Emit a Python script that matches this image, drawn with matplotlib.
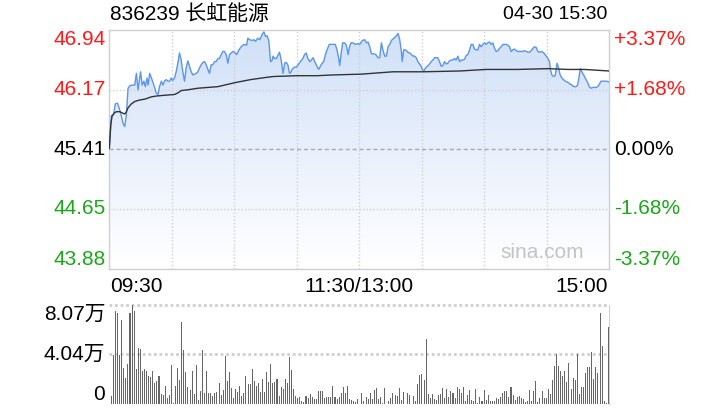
import matplotlib.pyplot as plt
import numpy as np
from matplotlib.colors import LinearSegmentedColormap
from matplotlib.transforms import blended_transform_factory

plt.rcParams['font.family'] = ['Liberation Sans', 'Noto Sans CJK SC', 'DejaVu Sans']

stock_title = "836239 长虹能源"
stamp = "04-30 15:30"
prev_close = 45.41
price_ticks = [46.94, 46.17, 45.41, 44.65, 43.88]
pct_labels = ["+3.37%", "+1.68%", "0.00%", "-1.68%", "-3.37%"]
time_labels = ["09:30", "11:30/13:00", "15:00"]
vol_ticks = [8.07, 4.04, 0]
vol_labels = ["8.07万", "4.04万", "0"]

# minutes since 09:30 (trading minutes, lunch removed) and price
price_min = [0, 1.0, 2.1, 2.9, 3.9, 4.7, 5.5, 6.6, 7.4, 8.2, 9.0, 9.8, 10.9, 12.2, 13.0, 13.8, 14.6, 15.0,
             15.8, 16.6, 17.3, 18.1, 18.6, 19.4, 20.5, 21.4, 22.5, 23.4, 24.1, 25.0, 25.7, 26.5, 27.3,
             28.1, 29.0, 29.7, 30.5, 31.3, 32.1, 32.9, 33.7, 34.5, 35.3, 36.1, 36.9, 37.7, 38.5, 39.3,
             40.1, 40.9, 41.7, 42.5, 43.3, 44.1, 44.9, 45.7, 46.5, 47.3, 48.1, 48.9, 49.7, 50.5, 51.3,
             52.1, 52.9, 53.7, 54.5, 55.3, 56.1, 56.9, 57.7, 58.5, 59.3, 60.1,
             61.1, 62.2, 63.3, 64.6, 65.9, 66.5, 67.4, 68.6, 69.4, 70.2, 71.3, 72.2, 73.4, 74.2, 75.0,
             75.8, 76.6, 77.4, 78.2, 78.6, 79.3, 80.2, 80.9, 81.7, 82.5, 83.4, 84.2, 84.9, 85.7, 86.5,
             87.3, 87.7, 88.9, 89.8, 90.9, 91.7, 92.9, 93.7, 94.5, 95.3, 96.2, 97.0, 97.8, 98.6, 99.7,
             100.5, 101.3, 102.1, 102.9, 103.7, 104.5, 105.6, 106.4, 107.7, 108.5, 109.3, 110.1, 110.6,
             111.2, 112.0, 112.8, 113.6, 114.1, 114.6, 115.2, 116.0, 117.0, 118.1, 119.2, 120.2,
             121.5, 122.6, 123.4, 124.2, 125.0, 125.8, 126.9, 127.9, 129.0, 129.8, 130.6, 131.4, 132.2,
             133.0, 133.8, 134.6, 135.4, 136.2, 137.0, 137.8, 138.6, 139.4, 140.2, 140.6, 141.3, 142.2,
             143.3, 144.2, 145.0, 145.8, 146.5, 147.3, 148.1, 148.9, 149.7, 150.2, 151.0, 151.8, 152.9,
             153.7, 154.5, 155.3, 156.1, 156.9, 157.7, 158.5, 159.3, 160.1, 160.9, 161.7, 162.5, 163.3,
             164.1, 164.9, 165.7, 166.5, 167.3, 168.1, 168.9, 169.7, 170.5, 171.3, 172.1, 172.9, 173.7,
             174.5, 175.3, 176.1, 176.9, 177.7, 178.5, 179.3,
             180.1, 180.9, 181.7, 182.5, 183.3, 184.1, 184.9, 185.7, 186.5, 187.3, 188.1, 188.9, 189.7,
             190.5, 191.3, 192.1, 192.9, 193.7, 194.5, 195.3, 196.1, 196.9, 197.7, 198.5, 199.3, 200.1,
             200.9, 201.7, 202.5, 203.3, 204.1, 204.9, 205.7, 206.5, 207.3, 208.1, 208.9, 209.7, 210.5,
             211.3, 211.7, 212.4, 213.2, 214.0, 214.5, 214.9, 215.6, 216.4, 217.2, 218.0, 218.8, 219.6,
             220.4, 221.3, 222.1, 222.9, 224.0, 224.8, 225.6, 226.1, 226.8, 227.7, 228.8, 229.6, 230.4,
             231.2, 232.0, 232.8, 233.6, 234.4, 235.2, 236.0, 236.8, 237.6, 238.4, 240.0]
price = [45.42, 45.84, 45.86, 45.99, 46.00, 45.94, 45.87, 45.74, 45.70, 45.85, 46.19, 46.22, 46.23, 46.23,
         46.38, 46.17, 46.32, 46.40, 46.23, 46.28, 46.21, 46.32, 46.23, 46.38, 46.30, 46.23, 46.13, 46.11,
         46.21, 46.28, 46.23, 46.28, 46.30, 46.28, 46.28, 46.32, 46.29, 46.32, 46.40, 46.51, 46.64, 46.55,
         46.40, 46.28, 46.45, 46.54, 46.47, 46.40, 46.36, 46.37, 46.38, 46.40, 46.45, 46.49, 46.52, 46.53,
         46.49, 46.43, 46.38, 46.49, 46.49, 46.53, 46.53, 46.57, 46.57, 46.62, 46.66, 46.66, 46.62, 46.51,
         46.62, 46.64, 46.66, 46.65,
         46.62, 46.68, 46.72, 46.75, 46.74, 46.83, 46.81, 46.80, 46.81, 46.79, 46.83, 46.81, 46.88, 46.91,
         46.85, 46.86, 46.79, 46.53, 46.55, 46.60, 46.57, 46.57, 46.61, 46.65, 46.55, 46.38, 46.51, 46.52,
         46.49, 46.38, 46.40, 46.43, 46.46, 46.46, 46.50, 46.53, 46.57, 46.62, 46.64, 46.57, 46.53, 46.55,
         46.58, 46.53, 46.47, 46.43, 46.47, 46.51, 46.53, 46.62, 46.68, 46.75, 46.75, 46.75, 46.75, 46.68,
         46.57, 46.48, 46.62, 46.77, 46.77, 46.75, 46.70, 46.62, 46.71, 46.77, 46.77, 46.75, 46.76, 46.75,
         46.80, 46.81, 46.77, 46.78, 46.72, 46.63, 46.63, 46.62, 46.58, 46.58, 46.77, 46.67, 46.60, 46.60,
         46.72, 46.75, 46.80, 46.82, 46.84, 46.86, 46.89, 46.81, 46.66, 46.53, 46.68, 46.68, 46.65, 46.64,
         46.62, 46.60, 46.60, 46.58, 46.53, 46.50, 46.47, 46.43, 46.41, 46.45, 46.48, 46.50, 46.53, 46.55,
         46.58, 46.58, 46.58, 46.53, 46.47, 46.48, 46.53, 46.50, 46.51, 46.54, 46.55, 46.55, 46.57, 46.55,
         46.60, 46.53, 46.55, 46.55, 46.56, 46.61, 46.62, 46.68, 46.75, 46.75, 46.69, 46.68, 46.68, 46.75,
         46.72, 46.75,
         46.77, 46.75, 46.77, 46.78, 46.75, 46.77, 46.70, 46.66, 46.67, 46.70, 46.72, 46.75, 46.75, 46.75,
         46.74, 46.72, 46.66, 46.68, 46.69, 46.67, 46.66, 46.66, 46.66, 46.66, 46.67, 46.66, 46.65, 46.65,
         46.67, 46.70, 46.72, 46.71, 46.66, 46.65, 46.66, 46.65, 46.63, 46.60, 46.57, 46.53, 46.43, 46.36,
         46.34, 46.35, 46.43, 46.51, 46.45, 46.36, 46.32, 46.30, 46.28, 46.27, 46.26, 46.24, 46.23, 46.21,
         46.21, 46.23, 46.36, 46.44, 46.40, 46.36, 46.30, 46.26, 46.21, 46.19, 46.20, 46.20, 46.20, 46.21,
         46.24, 46.28, 46.28, 46.28, 46.28, 46.27]

avg_min = [0, 0.7, 1.3, 2.3, 3.4, 5.0, 6.6, 7.4, 8.2, 9.0, 10.6, 12.2, 14.6, 17.0, 20.2, 22.5, 26.5, 31.3,
           32.9, 34.5, 37.7, 42.5, 47.3, 52.1, 55.3, 60.1, 67.8, 75.8, 79.0, 90.1, 99.7, 107.7, 121.0,
           136.2, 150.5, 168.1, 180.9, 196.1, 210.5, 220.1, 228.0, 240.0]
avg_price = [45.42, 45.72, 45.83, 45.87, 45.89, 45.89, 45.87, 45.86, 45.89, 45.94, 45.99, 46.02, 46.04,
             46.05, 46.08, 46.09, 46.10, 46.11, 46.13, 46.16, 46.17, 46.19, 46.20, 46.21, 46.23, 46.26,
             46.30, 46.33, 46.34, 46.35, 46.35, 46.36, 46.37, 46.40, 46.40, 46.41, 46.43, 46.43, 46.44,
             46.43, 46.43, 46.41]

# per-minute volume, in 万 shares
vol = [0.65, 3.99, 7.58, 7.44, 3.99, 6.85, 2.91, 2.09, 3.26, 7.44,
       8.07, 7.61, 2.85, 4.54, 4.48, 2.72, 2.85, 2.72, 2.28, 2.23,
       2.72, 1.74, 1.90, 2.28, 0.82, 0.73, 1.47, 0.46, 0.73, 3.18,
       0.05, 1.47, 2.91, 1.96, 6.71, 4.40, 2.64, 1.36, 1.14, 2.69,
       0.82, 3.18, 0.33, 1.09, 4.40, 0.87, 2.72, 0.87, 0.87, 0.65,
       0.92, 1.01, 1.74, 0.73, 1.14, 3.91, 1.90, 2.64, 1.28, 0.52,
       1.20, 1.01, 1.47, 0.65, 0.92, 2.28, 1.63, 1.63, 2.83, 1.90,
       1.47, 1.68, 1.01, 2.01, 1.01, 2.64, 1.82, 3.26, 1.68, 1.82,
       2.01, 0.65, 1.36, 1.20, 2.01, 1.68, 3.80, 2.77, 1.20, 0.65,
       0.46, 0.54, 0.27, 0.19, 0.65, 0.46, 0.82, 0.54, 0.38, 0.38,
       1.09, 1.09, 1.09, 0.46, 0.54, 0.54, 0.60, 1.47, 0.54, 0.38,
       0.60, 0.92, 1.36, 0.87, 1.47, 0.43, 0.33, 0.22, 0.16, 0.38,
       0.03, 0.87, 0.27, 0.54, 0.38, 0.87, 0.38, 1.14, 1.28, 0.38,
       0.54, 0.05, 1.28, 0.00, 0.27, 0.46, 0.87, 0.73, 0.65, 1.28,
       0.33, 0.98, 0.03, 0.87, 0.73, 0.03, 0.65, 0.27, 1.63, 2.36,
       2.45, 1.96, 5.27, 0.82, 0.46, 0.79, 0.38, 0.33, 0.73, 0.82,
       1.28, 0.46, 1.20, 0.54, 1.06, 0.92, 0.46, 1.36, 1.20, 0.92,
       1.36, 0.27, 0.71, 1.14, 0.33, 0.27, 1.20, 0.11, 0.54, 0.22,
       1.14, 0.33, 0.76, 0.27, 0.27, 0.27, 0.46, 0.38, 0.60, 0.92,
       1.09, 1.09, 0.54, 1.36, 0.73, 0.33, 0.54, 0.68, 0.46, 0.38,
       0.19, 0.27, 1.14, 0.24, 1.06, 1.87, 0.19, 0.46, 1.06, 0.46,
       0.46, 1.20, 0.79, 1.96, 3.10, 4.08, 3.10, 2.69, 2.28, 2.69,
       1.82, 3.31, 1.22, 2.09, 1.96, 4.05, 0.82, 1.36, 1.36, 2.55,
       2.99, 2.99, 4.21, 2.04, 2.99, 2.55, 7.39, 4.73, 0.27, 0.05, 6.25]

RED = "#ff1a1a"
GREEN = "#1aa81a"
GRID = "#cfcfcf"
FS = 15

fig = plt.figure(figsize=(7.2, 4.2), dpi=100)
ax = fig.add_axes([0.1518, 0.3595, 0.6945, 0.5702])
axv = fig.add_axes([0.1518, 0.0381, 0.6945, 0.2357])

ymin, ymax = price_ticks[-1], price_ticks[0]

# gradient fill under the price line
poly = ax.fill_between(price_min, price, ymin, color="none", lw=0)
cmap = LinearSegmentedColormap.from_list("fade", ["#ffffff", "#e9f0fc", "#cfe0f8"])
grad = np.linspace(0, 1, 256).reshape(-1, 1)
im = ax.imshow(grad, extent=[0, 240, ymin, ymax], aspect="auto", cmap=cmap, origin="lower", zorder=1)
im.set_clip_path(poly.get_paths()[0], transform=ax.transData)

ax.plot(price_min, price, color="#5b95ec", lw=1.0, zorder=3)
ax.plot(avg_min, avg_price, color="#333333", lw=1.0, zorder=4)

ax.set_xlim(0, 240)
ax.set_ylim(ymin, ymax)
ax.set_xticks([])
ax.set_yticks([])
for s in ax.spines.values():
    s.set_color(GRID)
    s.set_linewidth(1.0)

for m in [30, 60, 90, 120, 150, 180, 210]:
    ax.axvline(m, color=GRID, lw=1.0, ls=(0, (1, 1.5)), zorder=2)
for p in [price_ticks[1], price_ticks[3]]:
    ax.axhline(p, color=GRID, lw=1.0, ls=(0, (1, 1.5)), zorder=2)
ax.axhline(prev_close, color="#aaaaaa", lw=1.0, ls=(0, (3, 2)), zorder=2)

# price / percent labels
tr = blended_transform_factory(ax.transAxes, ax.transData)
colors = [RED, RED, "black", GREEN, GREEN]
vas = ["top", "center", "center", "center", "bottom"]
for p, pl, c, va in zip(price_ticks, pct_labels, colors, vas):
    ax.text(-0.008, p, f"{p:.2f}", transform=tr, ha="right", va=va, color=c, fontsize=FS)
    ax.text(1.010, p, pl, transform=tr, ha="left", va=va, color=c, fontsize=FS)

ax.text(0.002, -0.075, time_labels[0], transform=ax.transAxes, ha="left", va="center", fontsize=FS)
ax.text(0.5, -0.075, time_labels[1], transform=ax.transAxes, ha="center", va="center", fontsize=FS)
ax.text(0.998, -0.075, time_labels[2], transform=ax.transAxes, ha="right", va="center", fontsize=FS)

ax.text(0.95, 0.07, "sina.com", transform=ax.transAxes, ha="right", va="center",
        color="#c4c4c4", fontsize=FS)

fig.text(0.153, 0.966, stock_title, ha="left", va="center", fontsize=FS)
fig.text(0.843, 0.966, stamp, ha="right", va="center", fontsize=14)

# volume panel
x = np.arange(len(vol))
axv.bar(x, vol, width=0.5, color="#666666", zorder=3)
axv.set_xlim(-1, 240.5)
axv.set_ylim(0, max(vol))
axv.set_xticks([])
axv.set_yticks([])
for k in ["left", "bottom", "top"]:
    axv.spines[k].set_visible(False)
axv.spines["right"].set_color(GRID)
for v in vol_ticks[:2]:
    axv.axhline(v, color=GRID, lw=2.0, ls=(0, (1, 1)), zorder=1, clip_on=False)

trv = blended_transform_factory(axv.transAxes, axv.transData)
for v, lab, va in zip(vol_ticks, vol_labels, ["top", "center", "bottom"]):
    axv.text(-0.008, v, lab, transform=trv, ha="right", va=va, fontsize=FS)

fig.savefig("out.png", dpi=100)
